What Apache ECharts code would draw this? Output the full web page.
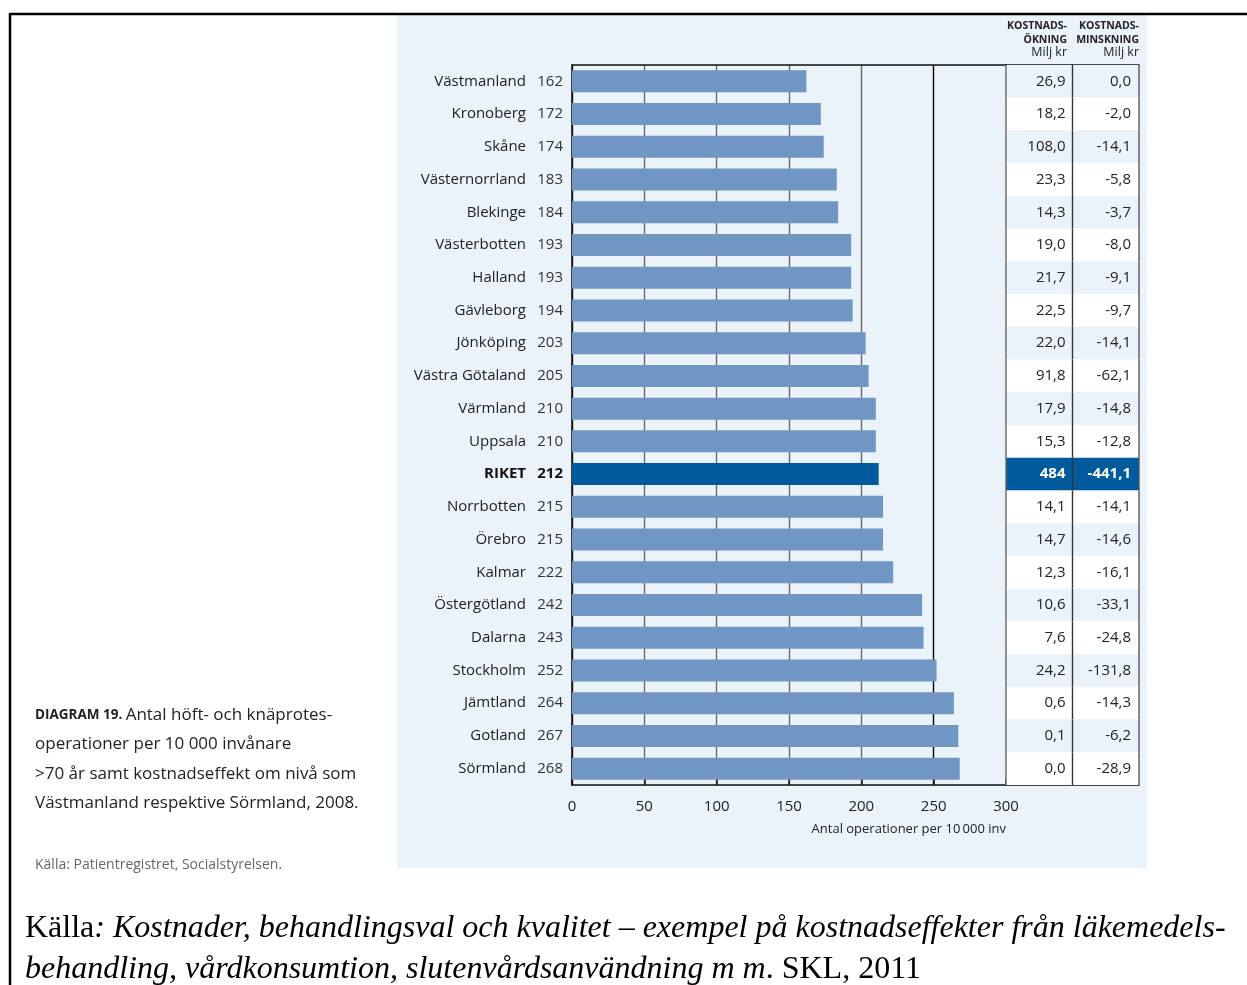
<!DOCTYPE html>
<html>
<head>
<meta charset="utf-8">
<script src="https://cdn.jsdelivr.net/npm/echarts@6/dist/echarts.min.js"></script>
<style>
  html, body { margin: 0; padding: 0; background: #ffffff; }
  #chart { width: 1247px; height: 985px; }
</style>
</head>
<body>
<div id="chart"></div>
<script>
// Hip and knee replacement operations per 10 000 inhabitants aged >70, by county, 2008
const regions = ['Västmanland', 'Kronoberg', 'Skåne', 'Västernorrland', 'Blekinge', 'Västerbotten',
  'Halland', 'Gävleborg', 'Jönköping', 'Västra Götaland', 'Värmland', 'Uppsala', 'RIKET',
  'Norrbotten', 'Örebro', 'Kalmar', 'Östergötland', 'Dalarna', 'Stockholm', 'Jämtland',
  'Gotland', 'Sörmland'];
const operations = [162, 172, 174, 183, 184, 193, 193, 194, 203, 205, 210, 210, 212,
  215, 215, 222, 242, 243, 252, 264, 267, 268];
// Cost increase / decrease (Milj kr) at the level of Västmanland and Sörmland respectively
const costIncrease = [26.9, 18.2, 108.0, 23.3, 14.3, 19.0, 21.7, 22.5, 22.0, 91.8, 17.9, 15.3, 484,
  14.1, 14.7, 12.3, 10.6, 7.6, 24.2, 0.6, 0.1, 0.0];
const costDecrease = [0.0, -2.0, -14.1, -5.8, -3.7, -8.0, -9.1, -9.7, -14.1, -62.1, -14.8, -12.8, -441.1,
  -14.1, -14.6, -16.1, -33.1, -24.8, -131.8, -14.3, -6.2, -28.9];
const xTicks = [0, 50, 100, 150, 200, 250, 300];
const totalName = 'RIKET';

const totalIdx = regions.indexOf(totalName);
const PANEL = '#eaf2fa';
const BAR = '#7096c3';
const BAR_TOTAL = '#005a9c';
const FONT = '"Open Sans", "Noto Sans", sans-serif';
const SERIF = '"Liberation Serif", "DejaVu Serif", serif';

function fmt(v, i, isIncrease) {
  if (isIncrease && i === totalIdx) return String(Math.round(v));
  return v.toFixed(1).replace('.', ',');
}

const chart = echarts.init(document.getElementById('chart'), null, { renderer: 'canvas' });

const option = {
  animation: false,
  backgroundColor: '#ffffff',
  textStyle: { fontFamily: FONT },
  graphic: [
    // light panel behind the chart
    { type: 'rect', z: -10, shape: { x: 397, y: 14, width: 750, height: 854 }, style: { fill: PANEL } },
    // frame
    { type: 'line', z: 10, shape: { x1: 10, y1: 14, x2: 1247, y2: 14 }, style: { stroke: '#000', lineWidth: 2.5 } },
    { type: 'line', z: 10, shape: { x1: 10, y1: 13, x2: 10, y2: 985 }, style: { stroke: '#000', lineWidth: 2.5 } },
    // table header
    { type: 'text', style: { x: 1067, y: 19, text: 'KOSTNADS-\nÖKNING', textAlign: 'right', font: 'bold 10.5px ' + FONT, fill: '#222', lineHeight: 14 } },
    { type: 'text', style: { x: 1067, y: 46, text: 'Milj kr', textAlign: 'right', font: '12.5px ' + FONT, fill: '#222' } },
    { type: 'text', style: { x: 1139, y: 19, text: 'KOSTNADS-\nMINSKNING', textAlign: 'right', font: 'bold 10.5px ' + FONT, fill: '#222', lineHeight: 14 } },
    { type: 'text', style: { x: 1139, y: 46, text: 'Milj kr', textAlign: 'right', font: '12.5px ' + FONT, fill: '#222' } },
    // caption
    {
      type: 'text',
      style: {
        x: 35, y: 700,
        text: '{a|DIAGRAM 19.} {b|Antal höft- och knäprotes-}\n{b|operationer per 10 000 invånare}\n{b|>70 år samt kostnadseffekt om nivå som}\n{b|Västmanland respektive Sörmland, 2008.}',
        lineHeight: 29.5,
        rich: {
          a: { font: 'bold 13.5px ' + FONT, fill: '#222', lineHeight: 29.5 },
          b: { font: '17px ' + FONT, fill: '#222', lineHeight: 29.5 }
        }
      }
    },
    { type: 'text', style: { x: 35, y: 858, text: 'Källa: Patientregistret, Socialstyrelsen.', font: '14px ' + FONT, fill: '#666' } },
    // reference line below the figure
    {
      type: 'text',
      style: {
        x: 25, y: 908,
        text: '{r|Källa}{i|: Kostnader, behandlingsval och kvalitet – exempel på kostnadseffekter från läkemedels-}\n{i|behandling, vårdkonsumtion, slutenvårdsanvändning m m}{r|. SKL, 2011}',
        lineHeight: 41,
        rich: {
          r: { font: '32px ' + SERIF, fill: '#000', lineHeight: 41 },
          i: { font: 'italic 32px ' + SERIF, fill: '#000', lineHeight: 41 }
        }
      }
    }
  ],
  grid: [
    { left: 572, top: 65, width: 434, height: 720 },
    { left: 1006, top: 65, width: 133, height: 720 }
  ],
  xAxis: [
    {
      gridIndex: 0, type: 'value', position: 'bottom', min: xTicks[0], max: xTicks[xTicks.length - 1],
      interval: xTicks[1] - xTicks[0],
      axisLine: { show: true, lineStyle: { color: '#111', width: 1.5 } },
      axisTick: { show: true, inside: true, length: 6, lineStyle: { color: '#111', width: 1.5 } },
      axisLabel: { margin: 14, fontSize: 15, color: '#222', fontFamily: FONT },
      splitLine: {
        show: true,
        lineStyle: { color: ['#111', '#6b6b6b', '#6b6b6b', '#6b6b6b', '#6b6b6b', '#000', '#6b6b6b'], width: 1.4 }
      },
      name: 'Antal operationer per 10\u2009000 inv',
      nameLocation: 'end', nameGap: 0,
      nameTextStyle: { align: 'right', verticalAlign: 'top', padding: [38, 0, 0, 0], fontSize: 13, color: '#222', fontFamily: FONT }
    },
    {
      gridIndex: 0, type: 'value', position: 'top', min: 0, max: 300,
      axisLine: { show: true, lineStyle: { color: '#111', width: 1.5 } },
      axisTick: { show: false }, axisLabel: { show: false }, splitLine: { show: false }
    },
    {
      gridIndex: 1, type: 'value', position: 'bottom', min: 0, max: 2,
      axisLine: { show: true, lineStyle: { color: '#111', width: 1.5 } },
      axisTick: { show: false }, axisLabel: { show: false }, splitLine: { show: false }
    },
    {
      gridIndex: 1, type: 'value', position: 'top', min: 0, max: 2,
      axisLine: { show: true, lineStyle: { color: '#111', width: 1.5 } },
      axisTick: { show: false }, axisLabel: { show: false }, splitLine: { show: false }
    }
  ],
  yAxis: [
    {
      gridIndex: 0, type: 'category', data: regions, inverse: true,
      axisLine: { show: true, lineStyle: { color: '#111', width: 1.5 } },
      axisTick: { show: false },
      axisLabel: {
        margin: 9,
        formatter: (value, index) => index === totalIdx
          ? `{nb|${value}}{vb|${operations[index]}}`
          : `{n|${value}}{v|${operations[index]}}`,
        rich: {
          n: { fontSize: 15, color: '#222', fontFamily: FONT },
          v: { fontSize: 15, color: '#333', fontFamily: FONT, width: 37, align: 'right' },
          nb: { fontSize: 15, color: '#111', fontWeight: 'bold', fontFamily: FONT },
          vb: { fontSize: 15, color: '#111', fontWeight: 'bold', fontFamily: FONT, width: 37, align: 'right' }
        }
      },
      splitLine: { show: false }
    },
    {
      gridIndex: 1, type: 'category', data: regions, inverse: true,
      axisLine: { show: false }, axisTick: { show: false }, axisLabel: { show: false }, splitLine: { show: false }
    }
  ],
  series: [
    {
      type: 'bar',
      xAxisIndex: 0, yAxisIndex: 0,
      barWidth: 22,
      data: operations.map((v, i) => ({
        value: v,
        itemStyle: { color: i === totalIdx ? BAR_TOTAL : BAR }
      })),
      z: 3
    },
    {
      // table of cost effects, one row per region
      type: 'custom',
      xAxisIndex: 2, yAxisIndex: 1,
      encode: { y: 0 },
      data: regions.map((r, i) => [i, costIncrease[i], costDecrease[i]]),
      renderItem: (params, api) => {
        const i = api.value(0);
        const c0 = api.coord([0, i]);
        const c1 = api.coord([1, i]);
        const c2 = api.coord([2, i]);
        const h = api.size([0, 1])[1];
        const yTop = c0[1] - h / 2;
        const isTotal = i === totalIdx;
        const fill = isTotal ? BAR_TOTAL : (i % 2 === 0 ? PANEL : '#ffffff');
        const textFill = isTotal ? '#ffffff' : '#222';
        const font = (isTotal ? 'bold ' : '') + '15px ' + FONT;
        return {
          type: 'group',
          children: [
            { type: 'rect', shape: { x: c0[0], y: yTop, width: c2[0] - c0[0], height: h }, style: { fill } },
            { type: 'text', style: { x: c1[0] - 7, y: c0[1], text: fmt(api.value(1), i, true), textAlign: 'right', textVerticalAlign: 'middle', font, fill: textFill } },
            { type: 'text', style: { x: c2[0] - 8, y: c0[1], text: fmt(api.value(2), i, false), textAlign: 'right', textVerticalAlign: 'middle', font, fill: textFill } },
            { type: 'line', shape: { x1: c0[0], y1: yTop, x2: c0[0], y2: yTop + h }, style: { stroke: '#6b6b6b', lineWidth: 1.4 } },
            { type: 'line', shape: { x1: c1[0], y1: yTop, x2: c1[0], y2: yTop + h }, style: { stroke: '#333', lineWidth: 1.4 } },
            { type: 'line', shape: { x1: c2[0], y1: yTop, x2: c2[0], y2: yTop + h }, style: { stroke: '#555', lineWidth: 1.4 } }
          ]
        };
      },
      z: 1
    }
  ]
};

chart.setOption(option);
</script>
</body>
</html>
